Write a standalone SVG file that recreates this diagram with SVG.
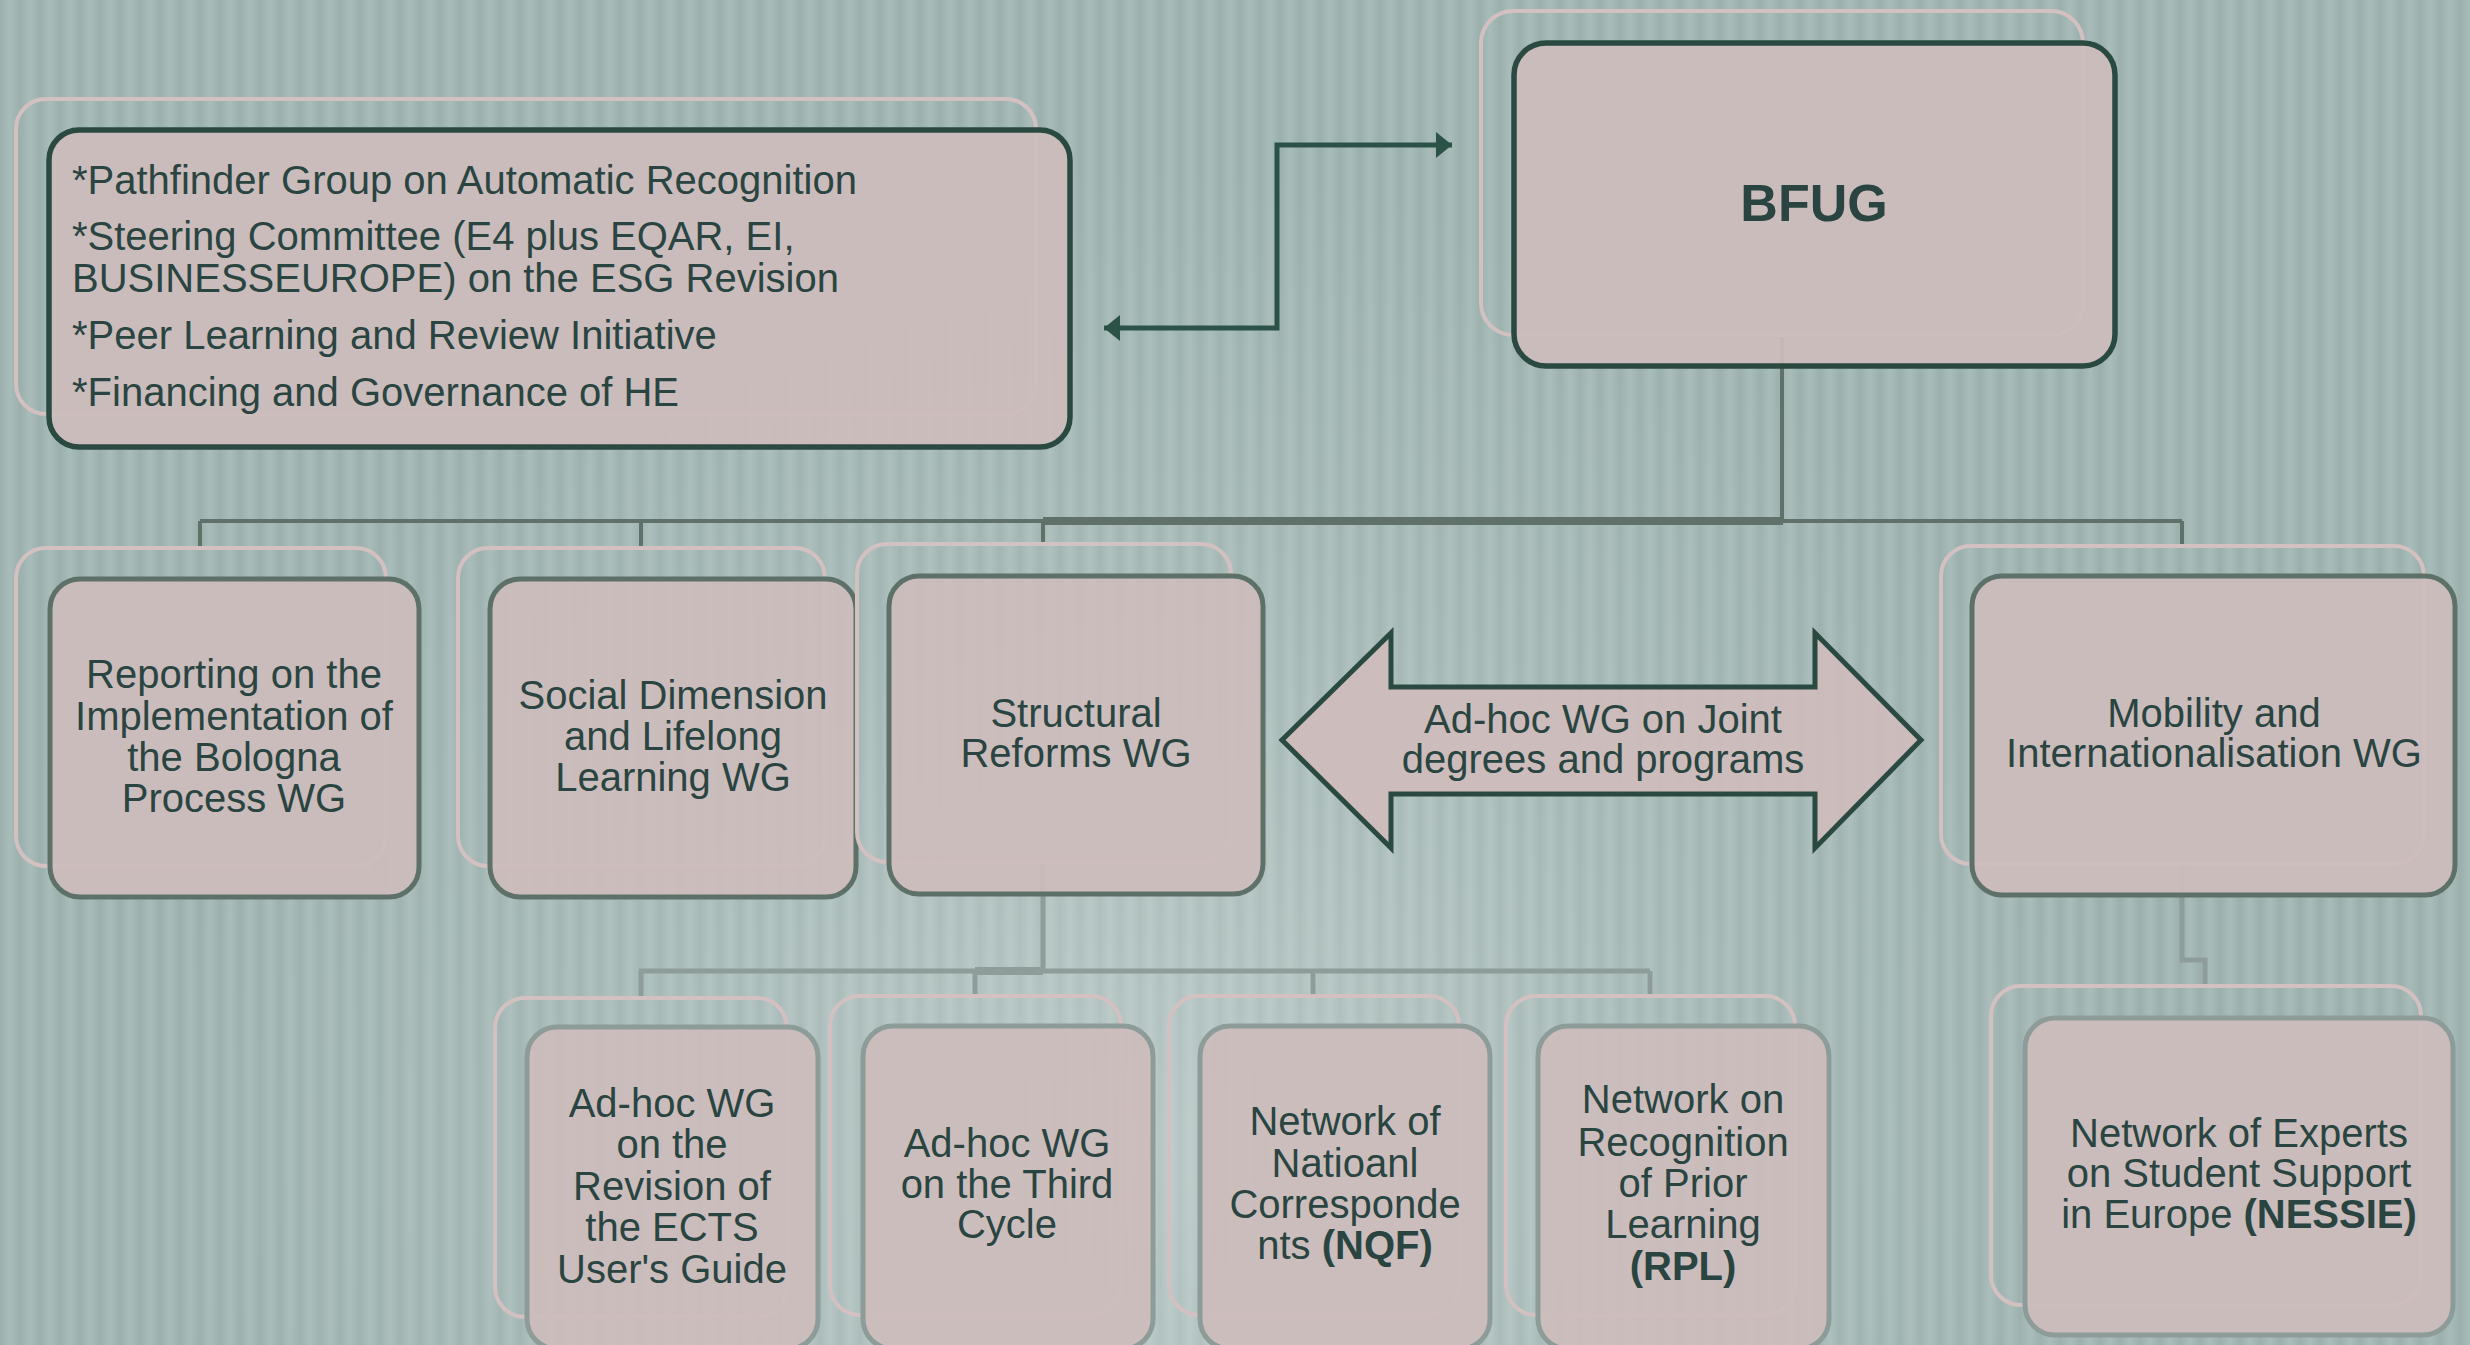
<svg xmlns="http://www.w3.org/2000/svg" width="2470" height="1345" viewBox="0 0 2470 1345">
<defs>
<linearGradient id="stripe" x1="0" y1="0" x2="20" y2="0" gradientUnits="userSpaceOnUse" spreadMethod="repeat">
<stop offset="0" stop-color="#9bb0ad"/>
<stop offset="0.5" stop-color="#a8bcb9"/>
<stop offset="1" stop-color="#9bb0ad"/>
</linearGradient>
<radialGradient id="glow" cx="1150" cy="1150" r="1000" gradientUnits="userSpaceOnUse">
<stop offset="0" stop-color="#ffffff" stop-opacity="0.28"/>
<stop offset="0.6" stop-color="#ffffff" stop-opacity="0.08"/>
<stop offset="1" stop-color="#ffffff" stop-opacity="0"/>
</radialGradient>
<marker id="ah" viewBox="0 0 16 26" refX="16" refY="13" markerWidth="16" markerHeight="26" markerUnits="userSpaceOnUse" orient="auto">
<path d="M0,0 L16,13 L0,26 Z" fill="#2b5246"/>
</marker>
<marker id="ahs" viewBox="0 0 16 26" refX="0" refY="13" markerWidth="16" markerHeight="26" markerUnits="userSpaceOnUse" orient="auto">
<path d="M16,0 L0,13 L16,26 Z" fill="#2b5246"/>
</marker>
</defs>
<style>
.back{fill:none;stroke:#d3c0c1;stroke-width:4}
.main{fill:#cebcbc;fill-opacity:0.93}
.l1{stroke:#2a4a41;stroke-width:5.5}
.l2{stroke:#5e7169;stroke-width:5}
.l3{stroke:#8d9c99;stroke-width:5}
text{font-family:"Liberation Sans",Arial,sans-serif;font-size:40px;fill:#2a4541}
.c{text-anchor:middle}
.b{font-weight:bold}
.cn1{fill:none;stroke:#5f7169;stroke-width:4}
.cn3{fill:none;stroke:#8e9d9a;stroke-width:5}
</style>
<rect x="0" y="0" width="2470" height="1345" fill="url(#stripe)"/>
<rect x="0" y="0" width="2470" height="1345" fill="url(#glow)"/>

<g id="connectors">
<path class="cn1" d="M1782,336 V521 M200,521 H2182 M200,521 V548 M641,521 V548 M1043,521 V545 M2182,521 V546"/>
<path d="M1043,521 H1783" fill="none" stroke="#5f7169" stroke-width="8"/>
<path class="cn3" d="M1043,864 V971 M639,971 H1650 M641,971 V998 M975,971 V997 M1313,971 V997 M1650,971 V997"/>
<path d="M975,971 H1043" fill="none" stroke="#8e9d9a" stroke-width="8"/>
<path class="cn3" d="M2182,864 V960 H2205 V986"/>
<path d="M1104,328 H1277 V145 H1452" fill="none" stroke="#2b5246" stroke-width="5" marker-start="url(#ahs)" marker-end="url(#ah)"/>
</g>

<g id="groups-box">
<rect class="back" x="16" y="99" width="1020" height="315" rx="30"/>
<rect class="main l1" x="49" y="130" width="1021" height="317" rx="30"/>
<text x="72" y="194">*Pathfinder Group on Automatic Recognition</text>
<text x="72" y="250">*Steering Committee (E4 plus EQAR, EI,</text>
<text x="72" y="292">BUSINESSEUROPE) on the ESG Revision</text>
<text x="72" y="349">*Peer Learning and Review Initiative</text>
<text x="72" y="406">*Financing and Governance of HE</text>
</g>

<g id="bfug">
<rect class="back" x="1481" y="11" width="602" height="324" rx="32"/>
<rect class="main l1" x="1514" y="43" width="601" height="323" rx="32"/>
<text class="c b" x="1814" y="221" style="font-size:52px">BFUG</text>
</g>

<g id="reporting">
<rect class="back" x="16" y="548" width="370" height="318" rx="30"/>
<rect class="main l2" x="50" y="579" width="369" height="318" rx="30"/>
<text class="c" x="234"><tspan x="234" y="688">Reporting on the</tspan><tspan x="234" y="730">Implementation of</tspan><tspan x="234" y="771">the Bologna</tspan><tspan x="234" y="812">Process WG</tspan></text>
</g>

<g id="social">
<rect class="back" x="458" y="548" width="367" height="318" rx="30"/>
<rect class="main l2" x="490" y="579" width="366" height="318" rx="30"/>
<text class="c" x="673"><tspan x="673" y="709">Social Dimension</tspan><tspan x="673" y="750">and Lifelong</tspan><tspan x="673" y="791">Learning WG</tspan></text>
</g>

<g id="structural">
<rect class="back" x="857" y="544" width="374" height="318" rx="30"/>
<rect class="main l2" x="889" y="576" width="374" height="318" rx="30"/>
<text class="c" x="1076"><tspan x="1076" y="727">Structural</tspan><tspan x="1076" y="767">Reforms WG</tspan></text>
</g>

<g id="joint-degrees">
<polygon points="1282,740 1391,633 1391,687 1815,687 1815,633 1921,740 1815,848 1815,794 1391,794 1391,848" fill="#cebcbc" fill-opacity="0.95" stroke="#2a4a41" stroke-width="5" stroke-linejoin="miter"/>
<text class="c" x="1603"><tspan x="1603" y="733">Ad-hoc WG on Joint</tspan><tspan x="1603" y="773">degrees and programs</tspan></text>
</g>

<g id="mobility">
<rect class="back" x="1941" y="546" width="483" height="318" rx="30"/>
<rect class="main l2" x="1972" y="576" width="483" height="319" rx="30"/>
<text class="c" x="2214"><tspan x="2214" y="727">Mobility and</tspan><tspan x="2214" y="767">Internationalisation WG</tspan></text>
</g>

<g id="ects">
<rect class="back" x="495" y="998" width="292" height="319" rx="30"/>
<rect class="main l3" x="527" y="1027" width="291" height="322" rx="30"/>
<text class="c" x="672"><tspan x="672" y="1117">Ad-hoc WG</tspan><tspan x="672" y="1158">on the</tspan><tspan x="672" y="1200">Revision of</tspan><tspan x="672" y="1241">the ECTS</tspan><tspan x="672" y="1283">User's Guide</tspan></text>
</g>

<g id="third-cycle">
<rect class="back" x="830" y="996" width="291" height="319" rx="30"/>
<rect class="main l3" x="863" y="1026" width="290" height="323" rx="30"/>
<text class="c" x="1007"><tspan x="1007" y="1157">Ad-hoc WG</tspan><tspan x="1007" y="1198">on the Third</tspan><tspan x="1007" y="1238">Cycle</tspan></text>
</g>

<g id="nqf">
<rect class="back" x="1169" y="996" width="290" height="319" rx="30"/>
<rect class="main l3" x="1200" y="1026" width="290" height="323" rx="30"/>
<text class="c" x="1345"><tspan x="1345" y="1135">Network of</tspan><tspan x="1345" y="1177">Natioanl</tspan><tspan x="1345" y="1218">Corresponde</tspan><tspan x="1345" y="1259">nts <tspan class="b">(NQF)</tspan></tspan></text>
</g>

<g id="rpl">
<rect class="back" x="1506" y="996" width="289" height="319" rx="30"/>
<rect class="main l3" x="1538" y="1026" width="291" height="323" rx="30"/>
<text class="c" x="1683"><tspan x="1683" y="1113">Network on</tspan><tspan x="1683" y="1156">Recognition</tspan><tspan x="1683" y="1197">of Prior</tspan><tspan x="1683" y="1238">Learning</tspan><tspan x="1683" y="1280" class="b">(RPL)</tspan></text>
</g>

<g id="nessie">
<rect class="back" x="1991" y="986" width="430" height="319" rx="30"/>
<rect class="main l3" x="2025" y="1018" width="428" height="317" rx="30"/>
<text class="c" x="2239"><tspan x="2239" y="1147">Network of Experts</tspan><tspan x="2239" y="1187">on Student Support</tspan><tspan x="2239" y="1228">in Europe <tspan class="b">(NESSIE)</tspan></tspan></text>
</g>
</svg>
